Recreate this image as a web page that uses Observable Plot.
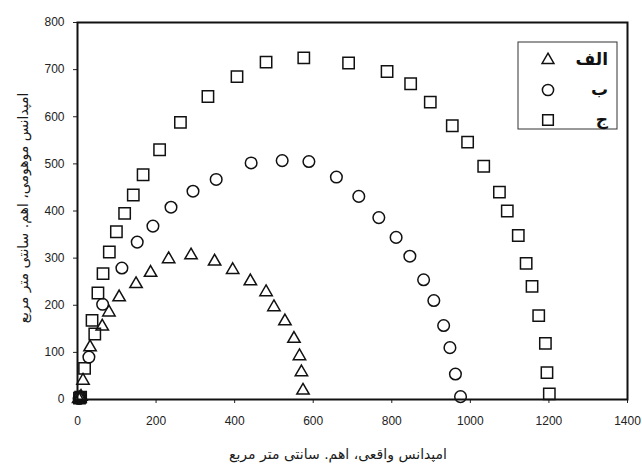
<!DOCTYPE html>
<html>
<head>
<meta charset="utf-8">
<script src="https://cdn.jsdelivr.net/npm/d3@7"></script>
<script src="https://cdn.jsdelivr.net/npm/@observablehq/plot@0.6"></script>
<style>
  html, body { margin: 0; padding: 0; background: #fff; }
  #chart { position: relative; width: 642px; height: 464px; }
</style>
</head>
<body>
<div id="chart"></div>
<script>
// Series names (legend order)
const seriesNames = ["الف", "ب", "ج"];
const seriesSymbols = ["triangle", "circle", "square"];

// Series الف (triangles): real Z, imaginary Z
const alefX = [3, 6, 9, 14, 32, 63, 80, 106, 149, 186, 232, 289, 349, 395, 440, 480, 500, 528, 551, 565, 570, 574];
const alefY = [1, 3, 6, 40, 111, 155, 185, 217, 245, 269, 298, 306, 293, 275, 251, 228, 196, 166, 129, 92, 58, 19];

// Series ب (circles)
const beX = [4, 7, 29, 64, 113, 152, 192, 238, 294, 353, 442, 521, 589, 659, 716, 767, 811, 846, 881, 907, 932, 948, 962, 975];
const beY = [2, 5, 90, 202, 279, 334, 368, 408, 442, 467, 502, 507, 505, 472, 431, 386, 344, 304, 254, 210, 157, 110, 54, 6];

// Series ج (squares)
const jimX = [5, 8, 18, 37, 44, 52, 65, 81, 99, 120, 142, 167, 209, 262, 332, 406, 480, 576, 690, 788, 848, 898, 954, 993, 1034, 1074, 1094, 1122, 1142, 1157, 1174, 1191, 1195, 1201];
const jimY = [3, 5, 66, 168, 139, 226, 267, 313, 356, 395, 434, 477, 530, 588, 643, 685, 716, 725, 714, 696, 670, 631, 581, 546, 495, 440, 400, 348, 289, 240, 178, 119, 57, 12];

// Axis ticks and labels
const xTicks = [0, 200, 400, 600, 800, 1000, 1200, 1400];
const yTicks = [0, 100, 200, 300, 400, 500, 600, 700, 800];
const xLabel = "امپدانس واقعی، اهم. سانتی متر مربع";
const yLabel = "امپدانس موهومی، اهم. سانتی متر مربع";

const toRows = (xs, ys) => xs.map((x, i) => ({x, y: ys[i]}));
const alef = toRows(alefX, alefY);
const be = toRows(beX, beY);
const jim = toRows(jimX, jimY);

const plot = Plot.plot({
  width: 642,
  height: 464,
  marginLeft: 77,
  marginRight: 15,
  marginTop: 22,
  marginBottom: 65,
  style: {fontFamily: "'Liberation Sans', Arial, sans-serif", fontSize: "12px", color: "#222", background: "#fff"},
  x: {domain: [0, 1400]},
  y: {domain: [0, 800]},
  marks: [
    Plot.axisX({ticks: xTicks, tickFormat: d3.format("d"), tickSize: 4, tickPadding: 13, fontSize: 12, label: null}),
    Plot.axisY({ticks: yTicks, tickFormat: d3.format("d"), tickSize: 4, tickPadding: 9, fontSize: 12, label: null}),
    Plot.frame({stroke: "#111", strokeWidth: 2}),
    Plot.dot(alef, {x: "x", y: "y", symbol: "triangle", r: 4.6, stroke: "#111", strokeWidth: 1.5, fill: "none"}),
    Plot.dot(be, {x: "x", y: "y", symbol: "circle", r: 5.8, stroke: "#111", strokeWidth: 1.5, fill: "none"}),
    Plot.dot(jim, {x: "x", y: "y", symbol: "square", r: 6.4, stroke: "#111", strokeWidth: 1.5, fill: "none"})
  ]
});
document.getElementById("chart").appendChild(plot);

// Axis titles and legend, added in SVG
const svg = d3.select(plot);
svg.append("text")
  .attr("x", 338).attr("y", 455)
  .attr("text-anchor", "middle").attr("dominant-baseline", "middle")
  .attr("direction", "rtl")
  .style("font-family", "'DejaVu Sans', sans-serif").style("font-size", "14px").style("fill", "#1a1a1a")
  .text(xLabel);
svg.append("text")
  .attr("transform", "translate(24,208) rotate(-90)")
  .attr("text-anchor", "middle").attr("dominant-baseline", "middle")
  .attr("direction", "rtl")
  .style("font-family", "'DejaVu Sans', sans-serif").style("font-size", "14px").style("fill", "#1a1a1a")
  .text(yLabel);

const lg = svg.append("g");
lg.append("rect").attr("x", 518).attr("y", 42).attr("width", 99).attr("height", 87)
  .attr("fill", "#fff").attr("stroke", "#333").attr("stroke-width", 1);
const symMap = {triangle: d3.symbolTriangle, circle: d3.symbolCircle, square: d3.symbolSquare};
const symSize = {triangle: Math.PI * 4.4 * 4.4, circle: Math.PI * 5.6 * 5.6, square: Math.PI * 6.0 * 6.0};
seriesNames.forEach((name, i) => {
  const cy = 60 + i * 30;
  const s = seriesSymbols[i];
  lg.append("path")
    .attr("transform", `translate(548,${cy})`)
    .attr("d", d3.symbol(symMap[s], symSize[s])())
    .attr("fill", "none").attr("stroke", "#111").attr("stroke-width", 1.5);
  lg.append("text")
    .attr("x", 608).attr("y", cy)
    .attr("text-anchor", "end").attr("dominant-baseline", "middle")
    .attr("direction", "ltr")
    .style("font-family", "'DejaVu Sans', sans-serif").style("font-size", "17px").style("font-weight", "bold").style("fill", "#111")
    .text(name);
});
</script>
</body>
</html>
